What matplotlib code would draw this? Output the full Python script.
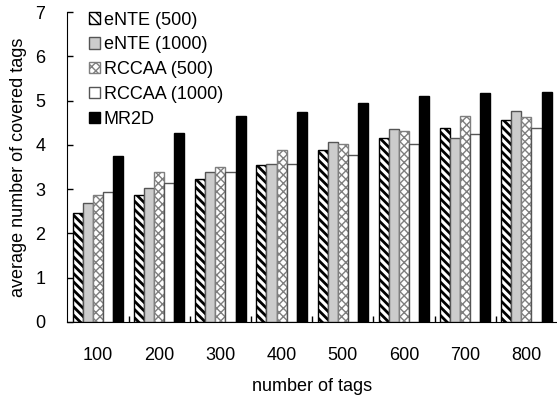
import numpy as np
import matplotlib
matplotlib.use("Agg")
from matplotlib import pyplot as plt

plt.rcParams['font.family'] = ['Liberation Sans', 'DejaVu Sans']

tags = ['100', '200', '300', '400', '500', '600', '700', '800']
ente_500 = [2.46, 2.87, 3.24, 3.55, 3.89, 4.15, 4.38, 4.56]
ente_1000 = [2.69, 3.02, 3.39, 3.58, 4.07, 4.37, 4.16, 4.76]
rccaa_500 = [2.87, 3.38, 3.50, 3.88, 4.01, 4.31, 4.65, 4.63]
rccaa_1000 = [2.93, 3.14, 3.38, 3.56, 3.78, 4.03, 4.25, 4.38]
mr2d = [3.74, 4.28, 4.66, 4.74, 4.95, 5.10, 5.17, 5.20]

# label, values, face, edge, hatch, hatch line width
series = [
    ("eNTE (500)", ente_500, 'white', 'black', '\\' * 4, 2.0),
    ("eNTE (1000)", ente_1000, '#cccccc', '#555555', None, 1.0),
    ("RCCAA (500)", rccaa_500, 'white', '#7f7f7f', 'x' * 4, 1.0),
    ("RCCAA (1000)", rccaa_1000, 'white', '#555555', None, 1.0),
    ("MR2D", mr2d, 'black', 'black', None, 1.0),
]

fig = plt.figure(figsize=(5.57, 4.03), dpi=100)
ax = fig.add_axes([0.121, 0.201, 0.879, 0.769])

x = np.arange(len(tags))
w = 0.165
for i, (name, vals, fc, ec, hatch, hlw) in enumerate(series):
    with plt.rc_context({'hatch.linewidth': hlw}):
        ax.bar(x + (i - 2) * w, vals, width=w, color=fc, edgecolor=ec,
               hatch=hatch, linewidth=1.0, label=name)

ax.set_xlim(-0.5, 7.5)
ax.set_ylim(0, 7)
ax.set_yticks(range(8))
ax.set_xticks(x)
ax.set_xticklabels(tags)
ax.set_xticks(np.arange(0.5, 7.5, 1), minor=True)
ax.tick_params(axis='x', which='major', length=0, pad=18, labelsize=13)
ax.tick_params(axis='x', which='minor', direction='in', length=4, width=1)
ax.tick_params(axis='y', direction='in', length=4, width=1, pad=16, labelsize=13)
ax.spines['top'].set_visible(False)
ax.spines['right'].set_visible(False)
ax.set_xlabel("number of tags", fontsize=13, labelpad=10)
ax.set_ylabel("average number of covered tags", fontsize=13, labelpad=6)

ax.legend(loc='upper left', bbox_to_anchor=(0.03, 1.025), frameon=False,
          fontsize=13, handlelength=0.6, handleheight=0.6,
          handletextpad=0.2, labelspacing=0.43, borderaxespad=0)

fig.savefig("out.png", dpi=100)
